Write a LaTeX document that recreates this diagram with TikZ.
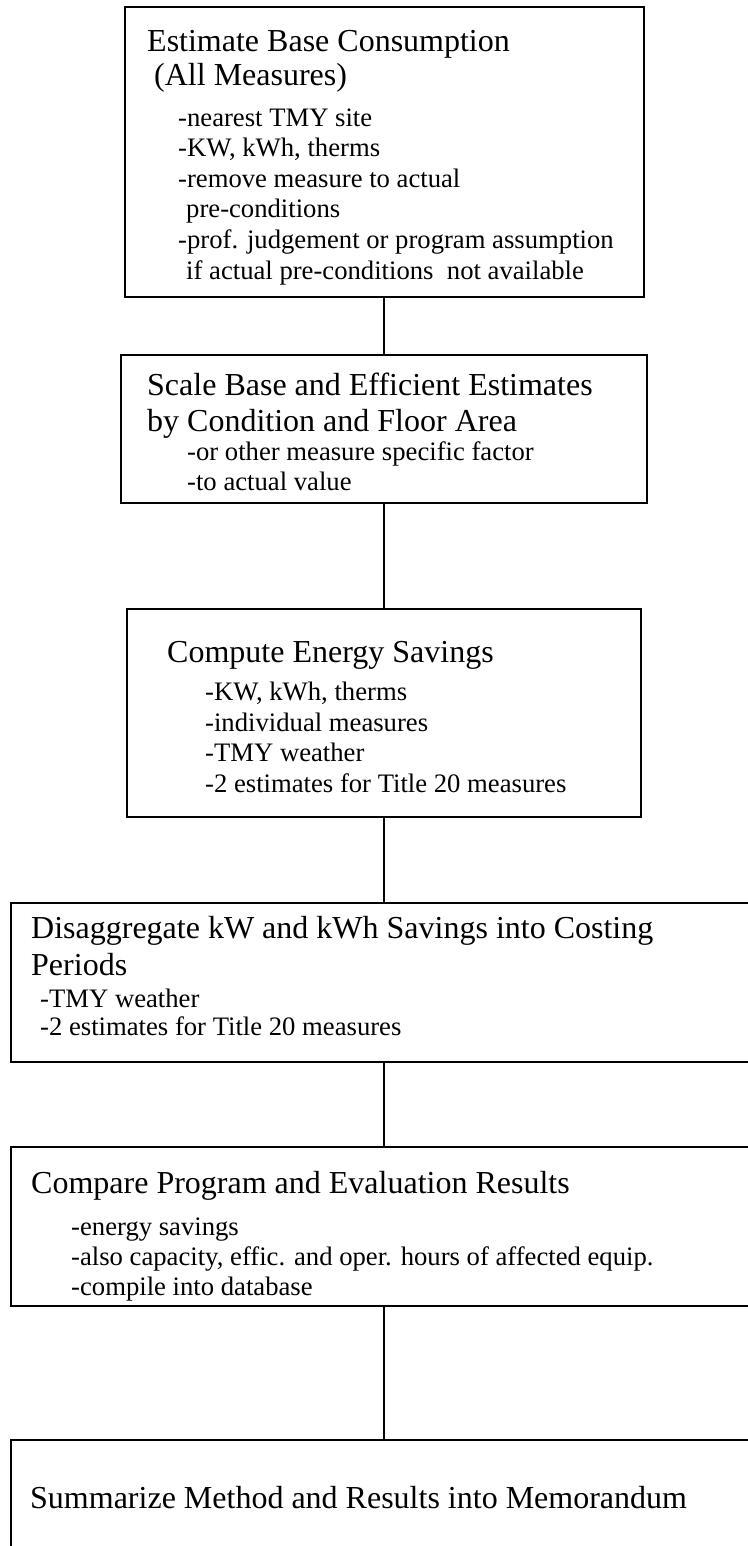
\documentclass[tikz,border=0pt]{standalone}
\usepackage{fontspec}
\setmainfont{Liberation Serif}
\begin{document}
\begin{tikzpicture}[x=1pt,y=-1pt,
  box/.style={draw=black, line width=2pt, inner sep=0pt},
  link/.style={draw=black, line width=1.5pt},
  head/.style={anchor=base west, inner sep=0pt, font=\fontsize{32}{36.8}\selectfont},
  item/.style={anchor=base west, inner sep=0pt, font=\fontsize{26.67}{30.7}\selectfont}]
\useasboundingbox (0,0) rectangle (747,1546);

% process boxes
\node[box, minimum width=519pt, minimum height=290pt] (b1) at (384,152) {};
\node[box, minimum width=526pt, minimum height=148pt] (b2) at (384,429) {};
\node[box, minimum width=514pt, minimum height=208pt] (b3) at (384,713) {};
\node[box, minimum width=746pt, minimum height=159pt] (b4) at (384,982.5) {};
\node[box, minimum width=746pt, minimum height=159pt] (b5) at (384,1226.5) {};
\node[box, minimum width=746pt, minimum height=160pt] (b6) at (384,1520) {};

% connectors
\draw[link] (b1.south) -- (b2.north);
\draw[link] (b2.south) -- (b3.north);
\draw[link] (b3.south) -- (b4.north);
\draw[link] (b4.south) -- (b5.north);
\draw[link] (b5.south) -- (b6.north);

% box 1 text
\node[head] (t1a) at (147,52) {Estimate Base Consumption};
\node[head] (t1b) at (154,86) {(All Measures)};
\node[item] (t1c) at (178,127) {-nearest TMY site};
\node[item] (t1d) at (178,157) {-KW, kWh, therms};
\node[item] (t1e) at (178,188) {-remove measure to actual};
\node[item] (t1f) at (186,218) {pre-conditions};
\node[item] (t1g) at (178,249) {-prof. judgement or program assumption};
\node[item] (t1h) at (186,279) {if actual pre-conditions\ \ not available};

% box 2 text
\node[head] (t2a) at (147,395) {Scale Base and Efficient Estimates};
\node[head] (t2b) at (147,431) {by Condition and Floor Area};
\node[item] (t2c) at (187,460) {-or other measure specific factor};
\node[item] (t2d) at (187,490) {-to actual value};

% box 3 text
\node[head] (t3a) at (167,662) {Compute Energy Savings};
\node[item] (t3b) at (205,700) {-KW, kWh, therms};
\node[item] (t3c) at (205,731) {-individual measures};
\node[item] (t3d) at (205,761) {-TMY weather};
\node[item] (t3e) at (205,792) {-2 estimates for Title 20 measures};

% box 4 text
\node[head] (t4a) at (31,938) {Disaggregate kW and kWh Savings into Costing};
\node[head] (t4b) at (31,975) {Periods};
\node[item] (t4c) at (40,1007) {-TMY weather};
\node[item] (t4d) at (40,1035) {-2 estimates for Title 20 measures};

% box 5 text
\node[head] (t5a) at (31,1193) {Compare Program and Evaluation Results};
\node[item] (t5b) at (71,1235) {-energy savings};
\node[item] (t5c) at (71,1265) {-also capacity, effic. and oper. hours of affected equip.};
\node[item] (t5d) at (71,1295) {-compile into database};

% box 6 text
\node[head] (t6a) at (30,1508) {Summarize Method and Results into Memorandum};
\end{tikzpicture}
\end{document}
